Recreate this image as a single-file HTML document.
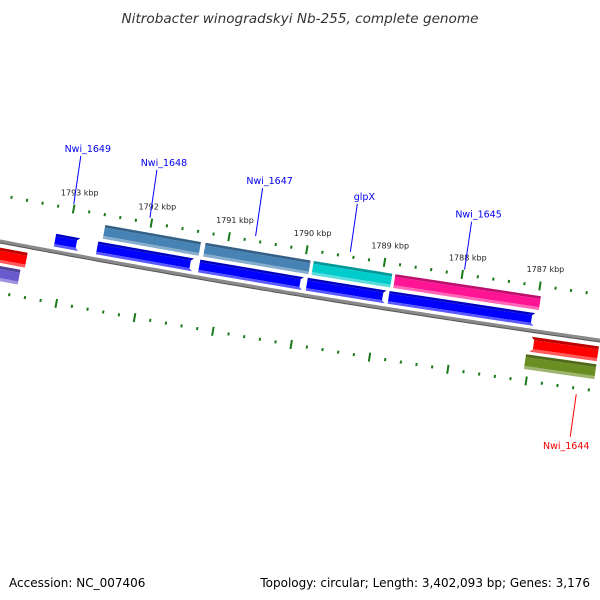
<!DOCTYPE html>
<html><head><meta charset="utf-8"><style>
html,body{margin:0;padding:0;background:#fff;}
svg{display:block;font-family:"DejaVu Sans","Liberation Sans",sans-serif;}
</style></head><body>
<svg id="map" width="600" height="600" viewBox="0 0 600 600" xmlns="http://www.w3.org/2000/svg">
<text x="300" y="23" text-anchor="middle" font-size="13.6" font-style="italic" fill="#333">Nitrobacter winogradskyi Nb-255, complete genome</text>
<text x="9" y="587" font-size="12" fill="#000">Accession: NC_007406</text>
<text x="590" y="587" text-anchor="end" font-size="12" fill="#000">Topology: circular; Length: 3,402,093 bp; Genes: 3,176</text>
<g id="layer"></g>
</svg>
<script>
// feature data (kbp)
const featStart = [1792.57,1791.28,1789.89,1788.84, 1793.16,1792.62,1791.31,1789.93,1788.88, 1793.84,1787.01, 1793.84,1787.05];
const featEnd   = [1791.34,1789.93,1788.88,1786.97, 1792.85,1791.39,1789.98,1788.92,1787.01, 1793.47,1786.15, 1793.52,1786.15];
const featRow   = [0,0,0,0, 1,1,1,1,1, 2,2, 3,3];
const featColor = ["#4682b4","#4682b4","#00cccc","#ff1493","#0000ff","#0000ff","#0000ff","#0000ff","#0000ff","#ff0000","#ff0000","#6a5acd","#6b8e23"];
const featArrow = [0,0,0,0, 1,1,1,1,1, 0,-1, 0,0];
const labelNames = ["Nwi_1649","Nwi_1648","Nwi_1647","glpX","Nwi_1645","Nwi_1644"];
const labelKbp   = [1793.01,1792.03,1790.67,1789.45,1787.98,1786.35];
const labelSide  = [-1,-1,-1,-1,-1,1];
const tickMajor  = [1793,1792,1791,1790,1789,1788,1787];

const rowOffset=[-28,-11,14,32], rowH=[14,13,15,15];
const NS="http://www.w3.org/2000/svg";
const layer=document.getElementById('layer');
function sOf(k){return 65.5+(1793-k)*78;}
function yb(s){return 241+0.19*s-0.0000417*s*s;}
function pt(s,d){const sl=0.19-2*0.0000417*s;const n=Math.sqrt(1+sl*sl);return [s-d*sl/n, yb(s)+d/n];}
function mk(tag,attrs){const e=document.createElementNS(NS,tag);for(const k in attrs)e.setAttribute(k,attrs[k]);layer.appendChild(e);return e;}
function shade(hex,f){let r=parseInt(hex.substr(1,2),16),g=parseInt(hex.substr(3,2),16),b=parseInt(hex.substr(5,2),16);
 if(f<0){r*=1+f;g*=1+f;b*=1+f;}else{r+=(255-r)*f;g+=(255-g)*f;b+=(255-b)*f;}
 return `rgb(${r|0},${g|0},${b|0})`;}
function P(a){return a.map(p=>p[0].toFixed(1)+','+p[1].toFixed(1)).join(' ');}

// backbone
let bp=[],bp2=[];
for(let s=-5;s<=605;s+=5){bp.push(pt(s,0));bp2.push(pt(s,1.5));}
let e=mk('polyline',{points:P(bp2),fill:'none',stroke:'#555','stroke-width':2});


e=mk('polyline',{points:P(bp),fill:'none',stroke:'#8a8a8a','stroke-width':3});



// ticks
for(let i=0;i<=45;i++){
  const k=1794-i*0.2; const s=sOf(k); if(s<-5||s>605)continue;
  const major=Math.abs(k-Math.round(k))<0.01;
  [-45,51].forEach(off=>{
    const L=major?4.5:1.5;
    const a=pt(s,off-L),b=pt(s,off+L);
    const t=mk('line',{x1:a[0],y1:a[1],x2:b[0],y2:b[1],stroke:'#1a7a1a','stroke-width':2});
    
    
  });
}
tickMajor.forEach(k=>{
  const p=pt(sOf(k),-62);
  const t=mk('text',{x:p[0]+3,y:p[1]+3,'text-anchor':'middle','font-size':8,fill:'#222'});
  t.textContent=k+' kbp';
  
  
});

// features
for(let i=0;i<featStart.length;i++){
  const s1=sOf(featStart[i]),s2=sOf(featEnd[i]);
  const c=rowOffset[featRow[i]],h=rowH[featRow[i]];
  const g=document.createElementNS(NS,'g');layer.appendChild(g);
  
  
  const bands=[[-0.5,-0.3,-0.25],[-0.3,0.3,0],[0.3,0.5,0.35]];
  bands.forEach(([f1,f2,sh])=>{
    const d1=c+f1*h,d2=c+f2*h;let pts;
    const hl=7;
    const fa=t=>Math.abs(t)*2;
    if(featArrow[i]===1){
      pts=[pt(s1,d1),pt(s2-hl*(1-fa(f1)),d1),pt(s2-hl*(1-fa(f2)),d2),pt(s1,d2)];
    }else if(featArrow[i]===-1){
      pts=[pt(s1+hl*(1-fa(f1)),d1),pt(s2,d1),pt(s2,d2),pt(s1+hl*(1-fa(f2)),d2)];
    }else pts=[pt(s1,d1),pt(s2,d1),pt(s2,d2),pt(s1,d2)];
    const q=document.createElementNS(NS,'polygon');
    q.setAttribute('points',P(pts));q.setAttribute('fill',shade(featColor[i],sh));
    g.appendChild(q);
  });
}

// labels
for(let i=0;i<labelNames.length;i++){
  const s=sOf(labelKbp[i]);const sd=labelSide[i];
  let a,b,tp;
  if(sd<0){a=pt(s,-50);b=[a[0]+7,a[1]-48];tp=[b[0]+7,b[1]-4];}
  else{a=pt(s,57);b=pt(s,100);tp=[b[0]-4,b[1]+12];}
  const l=mk('line',{x1:a[0],y1:a[1],x2:b[0],y2:b[1],stroke:sd<0?'#0000ff':'#ff0000','stroke-width':1});
  
  
  const t=mk('text',{x:tp[0],y:tp[1],'text-anchor':'middle','font-size':9.5,fill:sd<0?'#0000ee':'#ee0000'});
  t.textContent=labelNames[i];
  
  
}
</script>
</body></html>
